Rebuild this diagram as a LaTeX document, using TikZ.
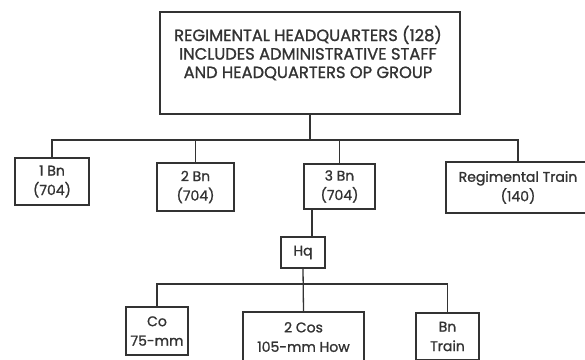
\documentclass[tikz,border=0pt]{standalone}
\usepackage{fontspec}
\setmainfont{Poppins}[FakeBold=1.2]
\usepackage{xcolor}

\begin{document}
\begin{tikzpicture}[x=1pt, y=-1pt,
  line width=1.3pt, draw=black!80,
  unitbox/.style={draw=black!80, line width=1.4pt, inner sep=0pt, align=center,
    font=\fontsize{14}{19.5}\selectfont, text=black!80},
  toptext/.style={align=center, font=\fontsize{16.3}{18.5}\selectfont, text=black!80}]
\useasboundingbox (0,0) rectangle (585,359);

% ---- REGIMENT ----
\node[unitbox, minimum width=300pt, minimum height=102pt] (rhq) at (310,63) {};
\node[toptext] (rhqtext) at (308,53)
  {REGIMENTAL HEADQUARTERS (128)\\INCLUDES ADMINISTRATIVE STAFF\\AND HEADQUARTERS OP GROUP};

% ---- BATTALIONS ----
\node[unitbox, minimum width=74pt, minimum height=47pt] (bn1) at (52,181.5) {1 Bn\\(704)};
\node[unitbox, minimum width=77pt, minimum height=48pt] (bn2) at (195.5,187) {2 Bn\\(704)};
\node[unitbox, minimum width=71pt, minimum height=45pt] (bn3) at (339.5,186.5) {3 Bn\\(704)};
\node[unitbox, minimum width=144pt, minimum height=51pt] (rtrain) at (518,187.5) {Regimental Train\\(140)};

\coordinate (rbus) at (306,140);
\draw (rhq.south) -- (rhq.south |- rbus);
\draw (bn1.north) |- (rtrain.north |- rbus) -- (rtrain.north);
\draw (bn2.north) -- (bn2.north |- rbus);
\draw (bn3.north) -- (bn3.north |- rbus);

% ---- 3 BN BREAKDOWN ----
\node[unitbox, minimum width=44pt, minimum height=31pt] (hq) at (303,252.5) {Hq};
\draw ([xshift=9pt]hq.north) -- ([xshift=9pt]hq.north |- bn3.south);

\node[unitbox, minimum width=62pt, minimum height=48pt] (co) at (157,331) {Co\\75-mm};
\node[unitbox, minimum width=121pt, minimum height=50pt] (cos) at (303.5,337) {2 Cos\\105-mm How};
\node[unitbox, minimum width=63pt, minimum height=47pt] (btrain) at (447.5,336.5) {Bn\\Train};

\coordinate (hqbus) at (303,284);
\draw (hq.south) -- (cos.north);
\draw (co.north) |- (btrain.north |- hqbus) -- (btrain.north);

\end{tikzpicture}
\end{document}
